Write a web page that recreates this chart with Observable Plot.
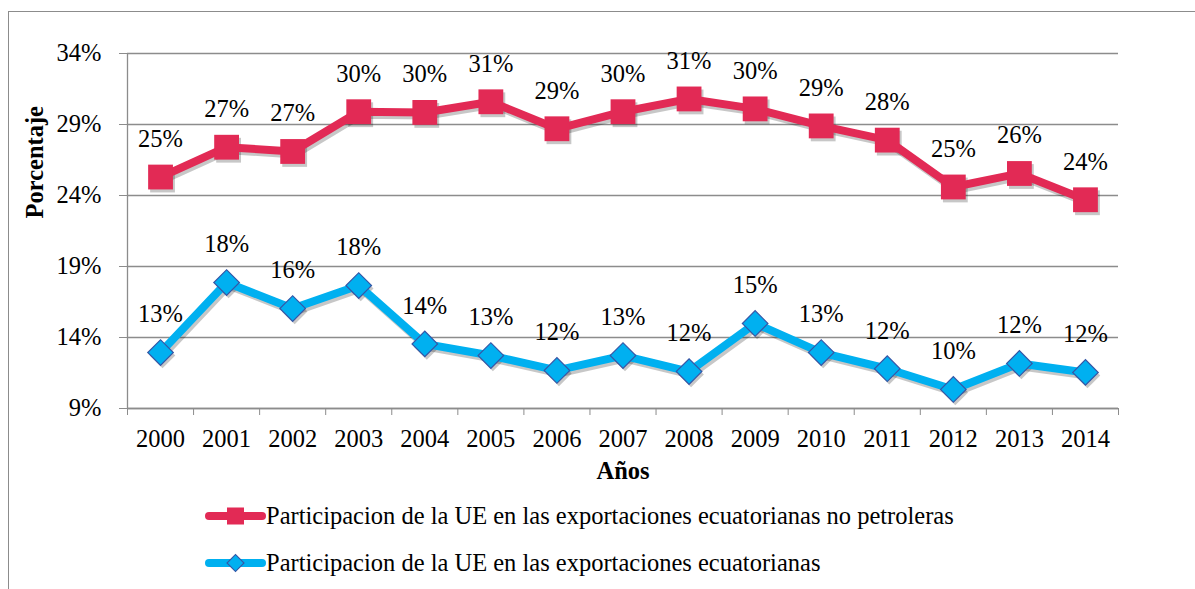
<!DOCTYPE html>
<html><head><meta charset="utf-8">
<script src="https://cdn.jsdelivr.net/npm/d3@7"></script>
<script src="https://cdn.jsdelivr.net/npm/@observablehq/plot@0.6"></script>
<style>
body{margin:0;width:1195px;height:589px;overflow:hidden;background:#fff;position:relative;font-family:'Liberation Serif', serif}
#frame{position:absolute;left:8px;top:11px;width:1400px;height:800px;border-top:1.5px solid #8c8c8c;border-left:1.5px solid #8c8c8c}
#chart{position:absolute;left:0;top:0}
#legend{position:absolute;left:205px;top:492px}
</style></head><body>
<div id="frame"></div><div id="chart"></div><div id="legend"></div>
<script>
const years = [2000,2001,2002,2003,2004,2005,2006,2007,2008,2009,2010,2011,2012,2013,2014];
const noPetroleras = [25.3,27.4,27.1,29.9,29.85,30.6,28.7,29.9,30.8,30.1,28.9,27.9,24.6,25.55,23.7];
const totales = [12.94,17.87,16.04,17.66,13.55,12.73,11.68,12.73,11.6,14.99,12.94,11.8,10.34,12.17,11.54];
const yTicks = [9,14,19,24,29,34];
const seriesNames = ["Participacion de la UE en las exportaciones ecuatorianas no petroleras","Participacion de la UE en las exportaciones ecuatorianas"];
const colors = ["#E22A55","#00B0F0"];
const diamondStroke = "#3556A6";
const gray = "#8c8c8c";
const shadow = "rgba(0,0,0,0.22)";
const fontName = "Liberation Serif";

const red = years.map((x,i)=>({x, y: noPetroleras[i]}));
const blue = years.map((x,i)=>({x, y: totales[i]}));
const bounds = d3.range(years.length+1).map(i=>years[0]-0.5+i);

const plot = Plot.plot({
  width:1195, height:500, marginLeft:127, marginRight:77, marginTop:53, marginBottom:92,
  x:{domain:[years[0]-0.5, years[years.length-1]+0.5]},
  y:{domain:[yTicks[0], yTicks[yTicks.length-1]]},
  style:{fontFamily:"'Liberation Serif', serif", fontSize:"24.5px"},
  marks:[
    Plot.gridY(yTicks,{stroke:gray, strokeOpacity:1, strokeWidth:1.3}),
    Plot.ruleX([years[0]-0.5],{stroke:gray, strokeWidth:1.3}),
    Plot.ruleY([yTicks[0]],{stroke:gray, strokeWidth:1.3}),
    Plot.axisY(yTicks,{tickFormat:d=>d+"%", tickSize:8, tickPadding:18, stroke:gray, label:null}),
    Plot.axisX(bounds,{tickSize:7, tickFormat:()=>"", label:null, stroke:gray}),
    Plot.axisX(years,{tickSize:0, tickPadding:21, tickFormat:d=>String(d), label:null}),
    Plot.lineY(red,{x:"x", y:"y", stroke:shadow, strokeWidth:8, dx:2, dy:3}),
    Plot.dot(red,{x:"x", y:"y", symbol:"square", r:14, fill:shadow, stroke:"none", dx:2, dy:3}),
    Plot.lineY(red,{x:"x", y:"y", stroke:colors[0], strokeWidth:8}),
    Plot.dot(red,{x:"x", y:"y", symbol:"square", r:14, fill:colors[0], stroke:"none"}),
    Plot.lineY(blue,{x:"x", y:"y", stroke:shadow, strokeWidth:8, dx:2, dy:3}),
    Plot.dot(blue,{x:"x", y:"y", symbol:"square", r:10.2, rotate:45, fill:shadow, stroke:"none", dx:2, dy:3}),
    Plot.lineY(blue,{x:"x", y:"y", stroke:colors[1], strokeWidth:8}),
    Plot.dot(blue,{x:"x", y:"y", symbol:"square", r:10.2, rotate:45, fill:colors[1], stroke:diamondStroke, strokeWidth:1.2}),
    Plot.text(red,{x:"x", y:"y", text:d=>Math.round(d.y)+"%", dy:-38, fill:"#000"}),
    Plot.text(blue,{x:"x", y:"y", text:d=>Math.round(d.y)+"%", dy:-38, fill:"#000"}),
    Plot.text(["Años"],{text:d=>d, frameAnchor:"bottom", dy:70, fontWeight:"bold", fill:"#000"}),
    Plot.text(["Porcentaje"],{text:d=>d, frameAnchor:"left", dx:-92, dy:-12.5, rotate:-90, fontWeight:"bold", fill:"#000"})
  ]
});
d3.select(plot).selectAll("text").attr("font-family", fontName).attr("font-size", 24.5);
document.getElementById("chart").appendChild(plot);

const lsvg = d3.select("#legend").append("svg").attr("width",900).attr("height",97)
  .attr("font-family", fontName).attr("font-size", 24.5).style("display","block");
seriesNames.forEach((name,i)=>{
  const g = lsvg.append("g").attr("transform",`translate(0,${24 + i*47})`);
  g.append("line").attr("x1",4).attr("x2",57).attr("y1",0).attr("y2",0)
    .attr("stroke",colors[i]).attr("stroke-width",8).attr("stroke-linecap","round");
  if(i===0){
    g.append("rect").attr("x",22).attr("y",-8.5).attr("width",17).attr("height",17).attr("fill",colors[0]);
  } else {
    g.append("rect").attr("x",24.5).attr("y",-6).attr("width",12).attr("height",12)
      .attr("fill",colors[1]).attr("stroke",diamondStroke).attr("stroke-width",1.2)
      .attr("transform","rotate(45 30.5 0)");
  }
  g.append("text").attr("x",61).attr("y",0).attr("dy","0.34em")
    .attr("font-family", fontName).attr("font-size", 24.5).attr("fill","#000").text(name);
});
</script>
</body></html>
